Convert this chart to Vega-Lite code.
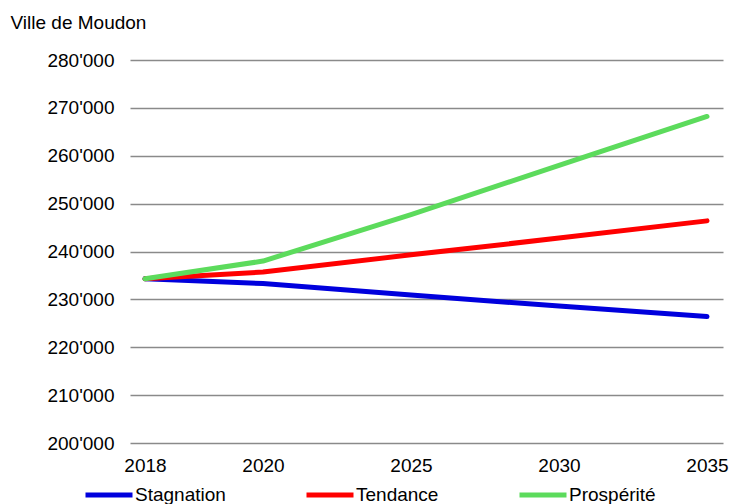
{
  "$schema": "https://vega.github.io/schema/vega-lite/v6.json",
  "width": 593,
  "height": 383,
  "autosize": "none",
  "padding": {"left": 130, "top": 60, "right": 8, "bottom": 61},
  "background": "white",
  "config": {
    "view": {"stroke": null},
    "font": "Liberation Sans",
    "locale": {"number": {"decimal": ".", "thousands": "'", "grouping": [3], "currency": ["", ""]}}
  },
  "data": {
    "values": [
      {"year": 2018, "value": 234300, "scenario": "Stagnation"},
      {"year": 2020, "value": 233300, "scenario": "Stagnation"},
      {"year": 2025, "value": 230900, "scenario": "Stagnation"},
      {"year": 2030, "value": 228600, "scenario": "Stagnation"},
      {"year": 2035, "value": 226400, "scenario": "Stagnation"},
      {"year": 2018, "value": 234300, "scenario": "Tendance"},
      {"year": 2020, "value": 235700, "scenario": "Tendance"},
      {"year": 2025, "value": 239300, "scenario": "Tendance"},
      {"year": 2030, "value": 242800, "scenario": "Tendance"},
      {"year": 2035, "value": 246400, "scenario": "Tendance"},
      {"year": 2018, "value": 234300, "scenario": "Prospérité"},
      {"year": 2020, "value": 238000, "scenario": "Prospérité"},
      {"year": 2025, "value": 247700, "scenario": "Prospérité"},
      {"year": 2030, "value": 258000, "scenario": "Prospérité"},
      {"year": 2035, "value": 268200, "scenario": "Prospérité"}
    ]
  },
  "mark": {"type": "line", "strokeWidth": 5, "strokeCap": "round", "strokeJoin": "round"},
  "encoding": {
    "x": {
      "field": "year",
      "type": "quantitative",
      "scale": {"domain": [2017.746, 2018, 2020, 2035, 2035.54], "range": [0, 15, 133, 577, 593]},
      "axis": {
        "values": [2018, 2020, 2025, 2030, 2035],
        "format": "d",
        "title": null,
        "grid": false,
        "domain": false,
        "ticks": false,
        "labelFontSize": 19,
        "labelColor": "black",
        "labelPadding": 13,
        "labelFlush": false
      }
    },
    "y": {
      "field": "value",
      "type": "quantitative",
      "scale": {"domain": [200000, 280000], "nice": false, "zero": false},
      "axis": {
        "values": [200000, 210000, 220000, 230000, 240000, 250000, 260000, 270000, 280000],
        "format": ",d",
        "title": "Ville de Moudon",
        "titleAngle": 0,
        "titleAlign": "left",
        "titleBaseline": "middle",
        "titleX": -120,
        "titleY": -38,
        "titleFontSize": 19,
        "titleFontWeight": "normal",
        "titleColor": "black",
        "domain": false,
        "ticks": false,
        "grid": true,
        "gridColor": "#8a8a8a",
        "gridWidth": 1.3,
        "labelFontSize": 19,
        "labelColor": "black",
        "labelPadding": 16
      }
    },
    "color": {
      "field": "scenario",
      "type": "nominal",
      "scale": {"domain": ["Stagnation", "Tendance", "Prospérité"], "range": ["#0000dd", "#ff0000", "#5cdb5c"]},
      "legend": {
        "title": null,
        "orient": "none",
        "direction": "horizontal",
        "legendX": -47,
        "legendY": 409,
        "symbolType": "stroke",
        "symbolStrokeWidth": 5,
        "symbolSize": 2209,
        "labelFontSize": 19,
        "labelColor": "black",
        "labelOffset": 0,
        "columnPadding": 70,
        "labelLimit": 200
      }
    }
  }
}
